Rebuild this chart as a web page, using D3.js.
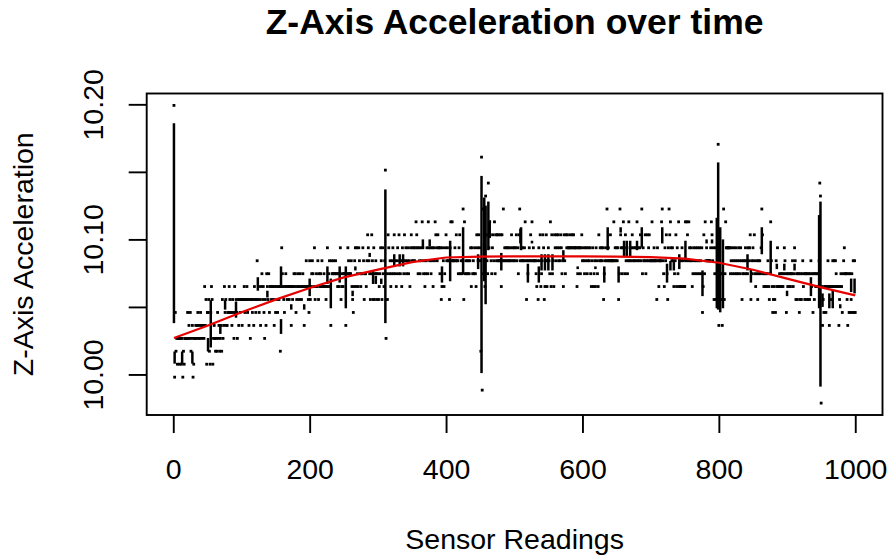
<!DOCTYPE html>
<html>
<head>
<meta charset="utf-8">
<script src="https://cdn.jsdelivr.net/npm/d3@7"></script>
<style>
    body { margin: 0; background: #fff; }
    #plot-canvas { width: 891px; height: 556px; }
    #plot-canvas text { font-family: "Liberation Sans", Arial, Helvetica, sans-serif; fill: #000; }
</style>
</head>
<body>
<div id="plot-canvas"></div>
<script>
// quantised sensor levels: one code character per reading
const levelCodes = "zy0123456789abcdefghijkl";
const levelValues = [9.9788, 9.9884, 9.9980, 10.0076, 10.0172, 10.0267, 10.0363, 10.0459,
    10.0555, 10.0651, 10.0746, 10.0842, 10.0938, 10.1034, 10.1130, 10.1225,
    10.1321, 10.1417, 10.1513, 10.1609, 10.1704, 10.1800, 10.1896, 10.1992];

// readings 1..1000, 50 per block
const readingBlocks = [
    "l0523133133130213333534352340133434534354344374615",
    "56215761343232534234263475644557655465375653646566",
    "46675667564636656476569675647867536487685776776475",
    "76576727a87657876776774767878567876876787477977659",
    "678987a678796878797787767a789749889889887878a67878",
    "88488a9888976579a7a87a98788a968879ba9868b96a689868",
    "678a96a879g386ba89789a8b9879a8b9897a98b9a89a897ab9",
    "a9a9acba8a98a9ca89789a8ca9a89a7a9cba9baa8a67a978ab",
    "9a996ac9c999a9b998ab8989d6c89898989a7a898a87ba9ba9",
    "2hyd897eb98facb98ab9c8b9b9b99b7b9d9a9a9a9a99ab9a9a",
    "9ab9a8bd9a9a99ac96989a9b9c9a9998796a9b789ba679b79a",
    "98c7b897ba9bab9a9ba897b98babaaabaababaaaa78aaa8ab9",
    "a98a9a89a9a879a7897a987b9a9a9a689a9d9a99b9999c9a9a",
    "9a68dba8aca8b9a89c9a9ab9a9a9ac9a9ab9d8a99b89b9ab99",
    "9c99a9996a97999cd987a9b86adbca9a9789b7a8c7979a7977",
    "c9cb9ca9a978a98a98a98a98a57b8c9a99999acb9a68a686i4",
    "686846d68caaaaaa89a89a89a898a98a968989a898a9ab698a",
    "9b879869898adb87878789768c975676597a778787878a9858",
    "7878788978a968688568689786886868689785868787879fez",
    "746577577974767797979877746787589a8886485856859595"
];

// vertical runs in the trace: [reading, low, high]
const spikes = [
    [1, 10.038, 10.186], [2, 10.008, 10.017], [13, 10.008, 10.017], [28, 10.008, 10.017],
    [51, 10.017, 10.027], [55, 10.020, 10.055], [69, 10.030, 10.037], [76, 10.048, 10.055],
    [92, 10.042, 10.054], [124, 10.062, 10.072], [138, 10.057, 10.062], [158, 10.064, 10.080],
    [158, 10.030, 10.041], [173, 10.048, 10.052], [192, 10.048, 10.052], [200, 10.058, 10.071],
    [226, 10.067, 10.080], [231, 10.049, 10.071], [244, 10.068, 10.080], [253, 10.049, 10.080],
    [263, 10.058, 10.062], [267, 10.077, 10.080], [288, 10.087, 10.090], [293, 10.067, 10.077],
    [297, 10.067, 10.073], [305, 10.067, 10.071], [311, 10.038, 10.137], [324, 10.080, 10.089],
    [332, 10.080, 10.089], [337, 10.080, 10.089], [366, 10.094, 10.100], [376, 10.095, 10.100],
    [394, 10.068, 10.080], [406, 10.069, 10.099], [425, 10.074, 10.109], [447, 10.078, 10.089],
    [452, 10.001, 10.147], [456, 10.069, 10.131], [458, 10.052, 10.125], [462, 10.092, 10.128],
    [464, 10.101, 10.114], [481, 10.077, 10.090], [509, 10.097, 10.108], [510, 10.092, 10.109],
    [520, 10.068, 10.082], [526, 10.097, 10.099], [536, 10.068, 10.080], [540, 10.077, 10.089],
    [545, 10.077, 10.089], [550, 10.077, 10.089], [556, 10.077, 10.089], [572, 10.084, 10.092],
    [593, 10.078, 10.080], [619, 10.078, 10.080], [632, 10.068, 10.080], [637, 10.092, 10.109],
    [653, 10.068, 10.080], [656, 10.105, 10.109], [661, 10.087, 10.099], [665, 10.087, 10.099],
    [670, 10.087, 10.099], [680, 10.092, 10.099], [687, 10.094, 10.109], [717, 10.097, 10.109],
    [724, 10.068, 10.082], [729, 10.077, 10.084], [734, 10.077, 10.084], [742, 10.078, 10.089],
    [751, 10.084, 10.099], [776, 10.058, 10.077], [782, 10.097, 10.100], [790, 10.097, 10.100],
    [797, 10.049, 10.116], [799, 10.048, 10.157], [802, 10.046, 10.109], [806, 10.049, 10.100],
    [842, 10.077, 10.089], [847, 10.068, 10.078], [863, 10.089, 10.109], [876, 10.074, 10.099],
    [885, 10.078, 10.082], [896, 10.077, 10.082], [900, 10.058, 10.062], [911, 10.077, 10.082],
    [935, 10.058, 10.072], [947, 10.049, 10.118], [949, 9.991, 10.128], [952, 10.050, 10.060],
    [962, 10.049, 10.060], [967, 10.049, 10.062], [978, 10.049, 10.052], [994, 10.061, 10.071],
    [999, 10.060, 10.071]
];

// smoothed trend (red)
const smoothX = [1, 50, 100, 150, 200, 250, 300, 350, 400, 450, 500, 550, 600, 650, 700, 750, 800, 850, 900, 950, 1000];
const smoothY = [10.027, 10.036, 10.046, 10.0554, 10.064, 10.0719, 10.0776, 10.0832, 10.0866, 10.0873, 10.0875,
    10.0875, 10.0875, 10.0873, 10.0868, 10.0857, 10.0827, 10.0775, 10.071, 10.0645, 10.0585];

const xTicks = [0, 200, 400, 600, 800, 1000];
const yTicks = [10.00, 10.05, 10.10, 10.15, 10.20];
const yTickLabels = ["10.00", "", "10.10", "", "10.20"];

const margin = {top: 93.5, right: 8.5, bottom: 141, left: 146.7};
const fontSize = 28.5;

var svg, readings;

function getWidth() {
    return 891 - margin.left - margin.right;
}

function getHeight() {
    return 556 - margin.top - margin.bottom;
}

// R style axis range: data extent padded by 4% each side
function padExtent(ext) {
    const pad = (ext[1] - ext[0]) * 0.04;
    return [ext[0] - pad, ext[1] + pad];
}

function getXScale() {
    return d3.scaleLinear().range([0, getWidth()]).domain(padExtent(d3.extent(readings, d => d.x)));
}

function getYScale() {
    return d3.scaleLinear().range([getHeight(), 0]).domain(padExtent(d3.extent(readings, d => d.y)));
}

readings = readingBlocks.join("").split("").map(function (c, i) {
    return {x: i + 1, y: levelValues[levelCodes.indexOf(c)]};
});

const x = getXScale();
const y = getYScale();

svg = d3.select("#plot-canvas").append("svg")
    .attr("width", 891)
    .attr("height", 556)
    .append("g").attr("transform", "translate(" + margin.left + "," + margin.top + ")");

// Draw vertical runs
svg.selectAll(".spike")
    .data(spikes)
    .enter().append("line")
    .attr("class", "spike")
    .attr("x1", d => x(d[0]))
    .attr("x2", d => x(d[0]))
    .attr("y1", d => y(d[1]))
    .attr("y2", d => y(d[2]))
    .style("stroke", "#000")
    .style("stroke-width", 2.5);

// Draw readings (pch=".")
svg.selectAll(".reading")
    .data(readings)
    .enter().append("rect")
    .attr("class", "reading")
    .attr("x", d => x(d.x) - 1.4)
    .attr("y", d => y(d.y) - 1.4)
    .attr("width", 2.8)
    .attr("height", 2.8)
    .style("fill", "#000");

// Draw trend
svg.append("path")
    .datum(d3.zip(smoothX, smoothY))
    .attr("d", d3.line().x(d => x(d[0])).y(d => y(d[1])))
    .style("fill", "none")
    .style("stroke", "#e60000")
    .style("stroke-width", 2.2);

//Draw x-axis
const xAxis = svg.append("g")
    .attr("transform", "translate(0," + getHeight() + ")")
    .call(d3.axisBottom(x).tickValues(xTicks).tickSize(18).tickFormat(d3.format("d")));
xAxis.select(".domain").remove();
xAxis.selectAll(".tick line").style("stroke", "#000").style("stroke-width", 1.9);
xAxis.selectAll(".tick text")
    .attr("y", 64)
    .attr("dy", null)
    .style("font-size", fontSize + "px")
    .style("font-family", null);

svg.append("text")
    .attr("x", getWidth() / 2)
    .attr("y", 455)
    .style("text-anchor", "middle")
    .style("font-size", fontSize + "px")
    .text("Sensor Readings");

//Draw y-axis
const yAxis = svg.append("g")
    .call(d3.axisLeft(y).tickValues(yTicks).tickSize(18).tickFormat((d, i) => yTickLabels[i]));
yAxis.select(".domain").remove();
yAxis.selectAll(".tick line").style("stroke", "#000").style("stroke-width", 1.9);
yAxis.selectAll(".tick text")
    .attr("x", null)
    .attr("dy", null)
    .attr("transform", "translate(-43.5,0) rotate(-90)")
    .style("text-anchor", "middle")
    .style("font-size", fontSize + "px")
    .style("font-family", null);

svg.append("text")
    .attr("transform", "translate(-114," + getHeight() / 2 + ") rotate(-90)")
    .style("text-anchor", "middle")
    .style("font-size", fontSize + "px")
    .text("Z-Axis Acceleration");

// plot box
svg.append("rect")
    .attr("width", getWidth())
    .attr("height", getHeight())
    .style("fill", "none")
    .style("stroke", "#000")
    .style("stroke-width", 1.9);

// title
svg.append("text")
    .attr("x", getWidth() / 2)
    .attr("y", -60)
    .style("text-anchor", "middle")
    .style("font-size", "35.5px")
    .style("font-weight", "bold")
    .text("Z-Axis Acceleration over time");
</script>
</body>
</html>
